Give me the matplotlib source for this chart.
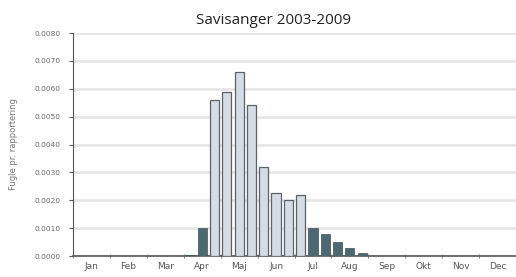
import matplotlib
matplotlib.use("Agg")
import matplotlib.pyplot as plt
from matplotlib.ticker import FormatStrFormatter

# Savisanger, fugle pr. rapportering per 10-dages periode (3 pr. maaned)
maaneder = ['Jan', 'Feb', 'Mar', 'Apr', 'Maj', 'Jun',
            'Jul', 'Aug', 'Sep', 'Okt', 'Nov', 'Dec']
vaerdier = [0, 0, 0,          # Jan
            0, 0, 0,          # Feb
            0, 0, 0,          # Mar
            0.00004, 0.0010, 0.0056,   # Apr
            0.0059, 0.0066, 0.0054,    # Maj
            0.0032, 0.00225, 0.0020,   # Jun
            0.0022, 0.0010, 0.0008,    # Jul
            0.0005, 0.0003, 0.0001,    # Aug
            0, 0, 0,          # Sep
            0, 0, 0,          # Okt
            0, 0, 0,          # Nov
            0, 0, 0]          # Dec
# perioder hvor arten er i yngletid (lyse soejler)
yngletid = [False] * 11 + [True] * 8 + [False] * 17

fig = plt.figure(figsize=(5.16, 2.77), dpi=100)
ax = fig.add_axes([0.1415, 0.0758, 0.8585, 0.805])

for i, v in enumerate(vaerdier):
    if v <= 0:
        continue
    x = i / 3 + 1 / 6
    if yngletid[i]:
        ax.bar(x, v, width=0.25, color='#d6dce4', edgecolor='#5a6268', linewidth=0.9, zorder=3)
    else:
        ax.bar(x, v, width=0.25, color='#4c6870', edgecolor='#3e5058', linewidth=0.5, zorder=3)

ax.set_xlim(0, 12)
ax.set_ylim(0, 0.008)
ax.set_yticks([i * 0.001 for i in range(9)])
ax.yaxis.set_major_formatter(FormatStrFormatter('%.4f'))
ax.set_xticks(range(13))
ax.set_xticklabels([])
ax.set_xticks([m + 0.5 for m in range(12)], minor=True)
ax.set_xticklabels(maaneder, minor=True)
ax.tick_params(axis='x', which='major', length=3, color='#888888', direction='inout')
ax.tick_params(axis='x', which='minor', length=0, labelsize=6.5, labelcolor='#555555', pad=4)
ax.tick_params(axis='y', length=3, color='#555555', labelsize=5.3, labelcolor='#666666', pad=6)

ax.grid(axis='y', color='#e4e4e4', linewidth=1.8, zorder=0)
ax.spines['top'].set_visible(False)
ax.spines['right'].set_visible(False)
ax.spines['left'].set_color('#555555')
ax.spines['bottom'].set_color('#555555')
ax.spines['bottom'].set_linewidth(1.2)

ax.set_ylabel('Fugle pr. rapportering', fontsize=6, color='#777777', labelpad=12)
fig.text(0.53, 0.925, 'Savisanger 2003-2009', ha='center', va='center',
         fontsize=11, color='#222222', family='Open Sans')

fig.savefig('out.png', dpi=100)
